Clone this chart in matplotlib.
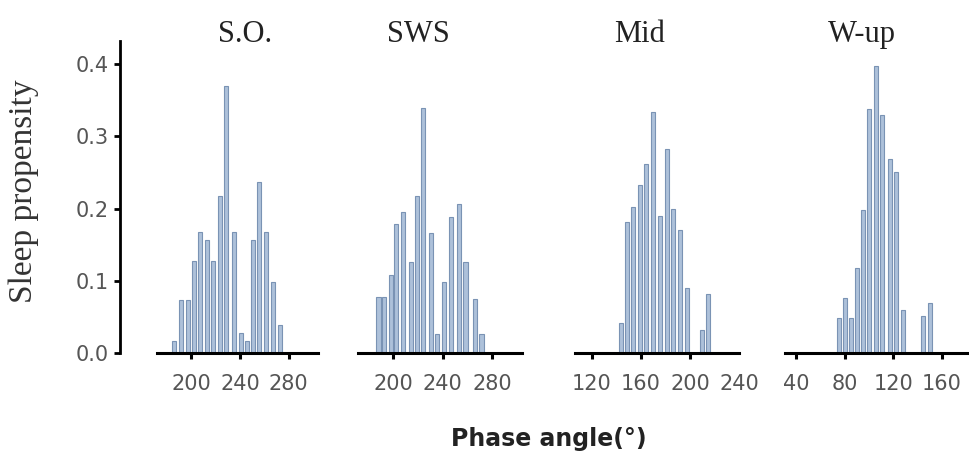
"""Sleep propensity vs phase angle, four histogram panels."""
import matplotlib
matplotlib.use("Agg")
import matplotlib.pyplot as plt

# --- data ---
titles = ["S.O.", "SWS", "Mid", "W-up"]

so_phase = [185.5, 191.5, 197.5, 202.5, 207.5, 212.5, 218, 223.5, 228.5,
            235, 241, 245.5, 251, 256, 261.5, 267.5, 273]
so_prop = [0.016, 0.074, 0.074, 0.127, 0.168, 0.156, 0.127, 0.217, 0.370,
           0.168, 0.028, 0.016, 0.156, 0.237, 0.168, 0.098, 0.039]

sws_phase = [188, 192.5, 198, 202.5, 208, 214, 219.5, 224, 230.5,
             235.5, 241, 247, 253, 258.5, 266.5, 271.5]
sws_prop = [0.077, 0.077, 0.108, 0.178, 0.195, 0.126, 0.218, 0.339, 0.166,
            0.027, 0.098, 0.189, 0.206, 0.126, 0.075, 0.027]

mid_phase = [144, 148.5, 154, 159.5, 164.5, 170, 175.5, 181, 186.5,
             192, 198, 210, 215]
mid_prop = [0.041, 0.182, 0.202, 0.232, 0.262, 0.333, 0.190, 0.283, 0.200,
            0.171, 0.090, 0.032, 0.082]

wup_phase = [75, 80.5, 85.5, 90.5, 95.5, 100.5, 106, 111, 117.5,
             122.5, 128.5, 144.5, 150]
wup_prop = [0.048, 0.076, 0.048, 0.118, 0.198, 0.338, 0.398, 0.329, 0.269,
            0.251, 0.059, 0.051, 0.069]

x_ticks = [[200, 240, 280], [200, 240, 280], [120, 160, 200, 240], [40, 80, 120, 160]]
y_ticks = [0.0, 0.1, 0.2, 0.3, 0.4]

series = [(so_phase, so_prop), (sws_phase, sws_prop),
          (mid_phase, mid_prop), (wup_phase, wup_prop)]

# --- layout, in pixels of the 969x453 canvas ---
W, H = 969, 453
panels_px = [(157, 161), (358, 164), (575, 164), (785, 184)]   # left, width
xlims = [(171.8, 304.1), (171.4, 304.3), (106.4, 240), (30.9, 182.5)]
title_x = [245, 418, 640, 862]
y0_px, ytop_px = 353, 41
ymax = 0.432

FILL = "#adc1da"
EDGE = "#7a93b4"
TICK_C = "#555555"

fig = plt.figure(figsize=(W / 100, H / 100), dpi=100)

for i, (ph, pr) in enumerate(series):
    left, width = panels_px[i]
    ax = fig.add_axes([left / W, (H - y0_px) / H, width / W, (y0_px - ytop_px) / H])
    ax.bar(ph, pr, width=3.3, color=FILL, edgecolor=EDGE, linewidth=0.8, zorder=2)
    ax.set_xlim(*xlims[i])
    ax.set_ylim(0, ymax)
    ax.patch.set_visible(False)

    for s in ["top", "right"]:
        ax.spines[s].set_visible(False)
    ax.spines["bottom"].set_linewidth(2.2)
    ax.spines["bottom"].set_zorder(3)

    ax.set_xticks(x_ticks[i])
    ax.tick_params(axis="x", direction="out", length=4, width=2.2, pad=11,
                   labelsize=15, labelcolor=TICK_C, color="black")
    for lab in ax.get_xticklabels():
        lab.set_family("DejaVu Sans")

    if i == 0:
        ax.spines["left"].set_position(("outward", 37 * 0.72))
        ax.spines["left"].set_linewidth(2.0)
        ax.set_yticks(y_ticks)
        ax.set_yticklabels([f"{v:.1f}" for v in y_ticks])
        ax.tick_params(axis="y", direction="out", length=4, width=2.0, pad=4,
                       labelsize=15, labelcolor=TICK_C)
    else:
        ax.spines["left"].set_visible(False)
        ax.set_yticks([])

    # the last Mid tick has a label but no mark in the original
    if i == 2:
        ax.xaxis.get_major_ticks()[-1].tick1line.set_visible(False)

    fig.text(title_x[i] / W, (H - 41.7) / H, titles[i], ha="center", va="baseline",
             family="Liberation Serif", fontsize=22, color="#222222")

fig.text(24 / W, (H - 191) / H, "Sleep propensity", rotation=90, ha="center",
         va="center", family="Liberation Serif", fontsize=24, color="#333333")
fig.text(549 / W, (H - 446) / H, "Phase angle(°)", ha="center", va="baseline",
         family="DejaVu Sans", fontweight="bold", fontsize=17, color="#222222")

fig.savefig("out.png", dpi=100)
